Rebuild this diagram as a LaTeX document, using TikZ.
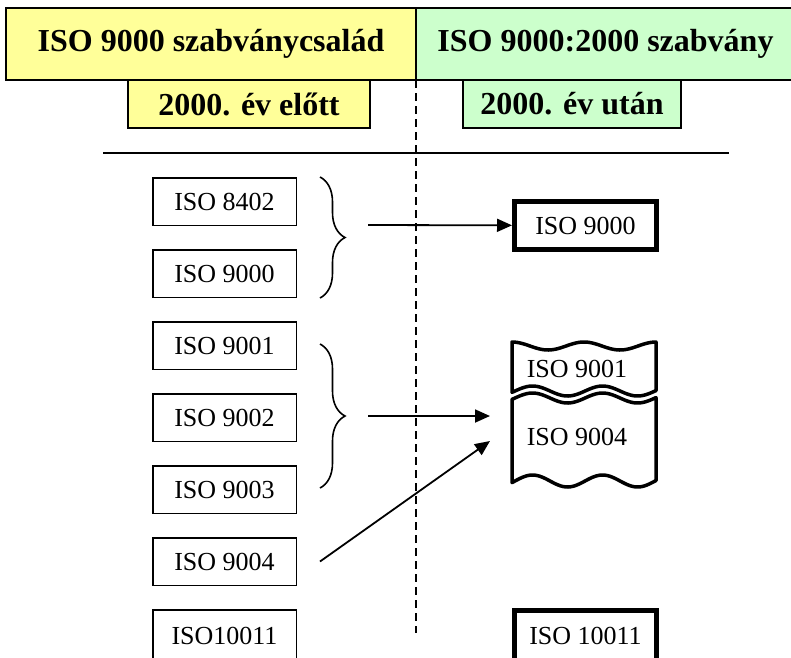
\documentclass[tikz,border=0pt]{standalone}
\usepackage{fontspec}
\setmainfont{Liberation Serif}
\usepackage{xcolor}
\usepackage{tikz}
\usetikzlibrary{arrows.meta,positioning,decorations.pathreplacing}
\definecolor{c1}{RGB}{255,255,153}
\definecolor{c2}{RGB}{204,255,204}
\tikzset{
  head/.style={draw, line width=1.2pt, minimum height=72pt, inner sep=0pt, font=\fontsize{32}{36}\selectfont\bfseries},
  subhead/.style={draw, line width=1.2pt, minimum height=48pt, inner sep=0pt, font=\fontsize{32}{36}\selectfont\bfseries},
  box/.style={draw, line width=1.5pt, minimum width=143.5pt, minimum height=47.5pt, inner sep=0pt, font=\fontsize{26}{30}\selectfont},
  newbox/.style={draw, line width=5pt, minimum width=142pt, minimum height=48pt, inner sep=0pt, font=\fontsize{26}{30}\selectfont},
  wavy/.style={line width=3.5pt, line join=round},
  label/.style={inner sep=0pt, font=\fontsize{26}{30}\selectfont},
  edge/.style={-{Triangle[length=15pt,width=13pt]}, line width=1.8pt},
  brc/.style={decorate, decoration={brace, amplitude=25pt}, line width=1.6pt}
}

\begin{document}
\begin{tikzpicture}[x=1pt, y=-1pt, node distance=23pt]
    \useasboundingbox (0,0) rectangle (791,657);
    % Headers
    \node[head, fill=c1, minimum width=410pt] (family) at (211,44) {ISO 9000 szabványcsalád};
    \node[head, fill=c2, minimum width=379pt] (standard) at (605.5,44) {ISO 9000:2000 szabvány};
    \node[subhead, fill=c1, minimum width=242pt] (before) at (249,104) {2000. év előtt};
    \node[subhead, fill=c2, minimum width=218pt] (after) at (572,104) {2000. év után};
    \draw[dashed, dash pattern=on 8pt off 5pt, line width=1.5pt] (416,80) -- (416,633);
    \draw[line width=1.8pt] (103,153) -- (729,153);

    % Old standards
    \node[box] (iso8402) at (224.5,201.5) {ISO 8402};
    \node[box, below=of iso8402] (iso9000) {ISO 9000};
    \node[box, below=of iso9000] (iso9001) {ISO 9001};
    \node[box, below=of iso9001] (iso9002) {ISO 9002};
    \node[box, below=of iso9002] (iso9003) {ISO 9003};
    \node[box, below=of iso9003] (iso9004) {ISO 9004};
    \node[box, below=of iso9004, minimum height=52pt] (iso10011) {ISO10011};

    % New standards
    \node[newbox] (new9000) at (585.5,225.5) {ISO 9000};
    \node[newbox, minimum height=52pt] (new10011) at (585.5,636) {ISO 10011};
    \draw[wavy] plot[domain=512:656, samples=60, smooth] (\x,{346-4*cos(5*(\x-512))})
        -- plot[domain=656:512, samples=60, smooth] (\x,{391-5*sin(5.14*(\x-515))}) -- cycle;
    \draw[wavy] plot[domain=512:656, samples=60, smooth] (\x,{398-5*sin(5.14*(\x-515))})
        -- plot[domain=656:512, samples=60, smooth] (\x,{481-6*sin(5.14*(\x-515))}) -- cycle;
    \node[label] (new9001) at (577,369) {ISO 9001};
    \node[label] (new9004) at (577,437) {ISO 9004};

    % Braces
    \draw[brc] ([xshift=23pt]iso8402.north east) -- ([xshift=23pt]iso9000.south east);
    \draw[brc] (320,344) -- (320,488);

    % Edges
    \coordinate (s1) at (368,225);
    \coordinate (s2) at (368,416);
    \coordinate (e2) at (490,416);
    \coordinate (e3) at (490,441);
    \draw[edge] (s1) -- (new9000);
    \draw[edge] (s2) -- (e2);
    \draw[edge] ([xshift=23pt]iso9004.east) -- (e3);
\end{tikzpicture}
\end{document}
